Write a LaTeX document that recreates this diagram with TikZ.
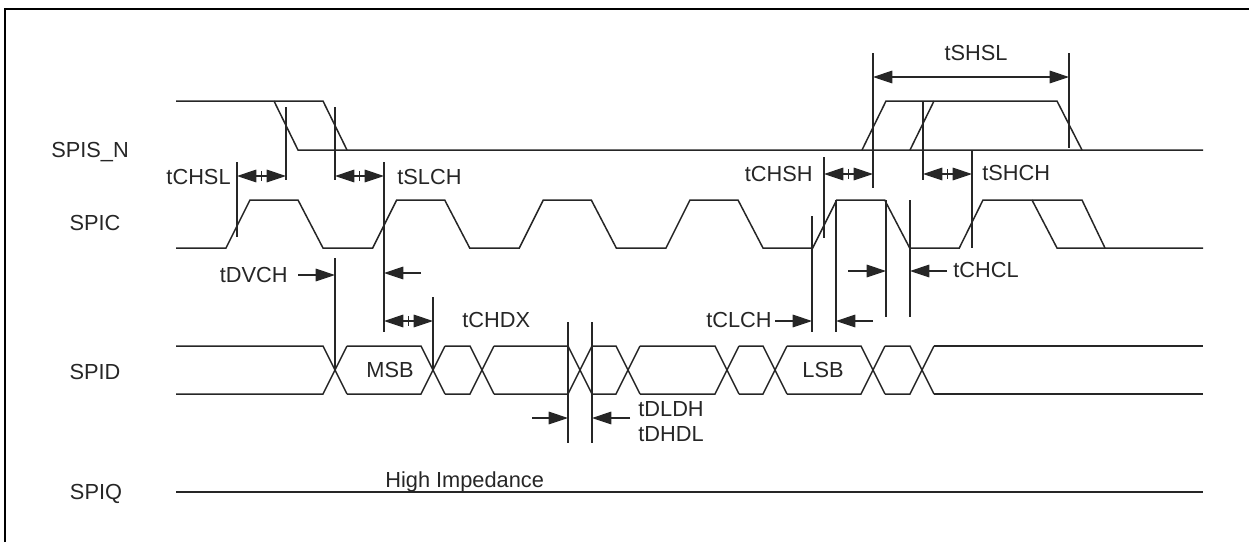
\documentclass[tikz,border=0pt]{standalone}
\usepackage{fontspec}
\setmainfont{Liberation Sans}
\usepackage{xcolor}
\usetikzlibrary{arrows.meta}
\definecolor{ink}{HTML}{262626}
\definecolor{edge}{HTML}{000000}
\tikzset{
  wave/.style={draw=ink, line width=0.85pt, line join=miter},
  mark line/.style={draw=ink, line width=0.6pt},
  span/.style={draw=ink, line width=0.6pt, {Triangle[length=11pt,width=7.2pt]}-{Triangle[length=11pt,width=7.2pt]}},
  ptr/.style={draw=ink, line width=0.6pt, -{Triangle[length=11pt,width=7.2pt]}},
  lab/.style={text=ink, font=\fontsize{12.4}{14}\selectfont, inner sep=0pt},
}
\begin{document}
\begin{tikzpicture}[x=0.02cm, y=-0.02cm]
  \useasboundingbox (0,0) rectangle (1249,542);
  \draw[edge, line width=1.4pt] (5,542) -- (5,9) -- (1249,9);
  \def\shi{101} \def\slo{150}
  \def\chi{200} \def\clo{248}
  \def\dtop{346} \def\dbot{394} \def\dh{12}
  \def\qy{492}
  % signal names
  \node[lab, anchor=base] (spisn) at (90,157) {SPIS\_N};
  \node[lab, anchor=base] (spic) at (95,230) {SPIC};
  \node[lab, anchor=base] (spid) at (95,379) {SPID};
  \node[lab, anchor=base] (spiq) at (96,499) {SPIQ};
  % SPIS_N
  \draw[wave] (176,\shi) -- (323,\shi) -- (347,\slo);
  \draw[wave] (274,\shi) -- (298,\slo) -- (1082,\slo) -- (1203,\slo);
  \draw[wave] (862,\slo) -- (886,\shi) -- (1057,\shi) -- (1082,\slo);
  \draw[wave] (910,\slo) -- (934,\shi);
  % SPIC
  \draw[wave] (176,\clo) foreach \r in {226,372.7,519.3,666,812.7}{
      -- (\r,\clo) -- (\r+24,\chi) -- (\r+72,\chi) -- (\r+97,\clo)}
    -- (959.3,\clo) -- (983,\chi) -- (1082,\chi) -- (1105,\clo);
  \draw[wave] (1032,\chi) -- (1057,\clo) -- (1203,\clo);
  % SPID
  \foreach \c [remember=\c as \p (initially 164)] in {335,433,482,580,628,727,775,873,922}{
    \draw[wave] (\p+\dh,\dtop) -- (\c-\dh,\dtop) -- (\c+\dh,\dbot);
    \draw[wave] (\p+\dh,\dbot) -- (\c-\dh,\dbot) -- (\c+\dh,\dtop);
  }
  \draw[wave] (934,\dtop) -- (1203,\dtop);
  \draw[wave] (934,\dbot) -- (1203,\dbot);
  \node[lab, anchor=base] (msb) at (390,377) {MSB};
  \node[lab, anchor=base] (lsb) at (823,377) {LSB};
  % SPIQ
  \draw[wave] (176,\qy) -- (1203,\qy);
  \node[lab, anchor=base west] (hiz) at (385,487) {High Impedance};
  % timing marks
  \draw[mark line] (237,162) -- (237,237);
  \draw[mark line] (286,107) -- (286,180);
  \draw[mark line] (335,107) -- (335,180);
  \draw[mark line] (384,162) -- (384,332);
  \draw[mark line] (335,258) -- (335,370);
  \draw[mark line] (433,297) -- (433,370);
  \draw[mark line] (568,322) -- (568,443);
  \draw[mark line] (592,322) -- (592,443);
  \draw[mark line] (873,53) -- (873,188);
  \draw[mark line] (923,102) -- (923,180);
  \draw[mark line] (1069,53) -- (1069,148);
  \draw[mark line] (824,157) -- (824,238);
  \draw[mark line] (972,150) -- (972,248);
  \draw[mark line] (812,216) -- (812,332);
  \draw[mark line] (836,200) -- (836,332);
  \draw[mark line] (886,200) -- (886,317);
  \draw[mark line] (910,200) -- (910,317);
  % tCHSL, tSLCH
  \draw[span] (237,176) -- (286,176);
  \draw[mark line] (261.5,171) -- (261.5,181);
  \node[lab, anchor=base east] (tchsl) at (231,184) {tCHSL};
  \draw[span] (335,176) -- (384,176);
  \draw[mark line] (359.5,171) -- (359.5,181);
  \node[lab, anchor=base west] (tslch) at (397,184) {tSLCH};
  % tSHSL
  \draw[span] (873,77) -- (1069,77);
  \node[lab, anchor=base] (tshsl) at (976,60) {tSHSL};
  % tCHSH, tSHCH
  \draw[span] (824,174) -- (873,174);
  \draw[mark line] (848.5,169) -- (848.5,179);
  \node[lab, anchor=base east] (tchsh) at (813,181) {tCHSH};
  \draw[span] (923,174) -- (972,174);
  \draw[mark line] (947.5,169) -- (947.5,179);
  \node[lab, anchor=base west] (tshch) at (982,180) {tSHCH};
  % tDVCH
  \node[lab, anchor=base east] (tdvch) at (288,282) {tDVCH};
  \draw[ptr] (298,275) -- (335,275);
  \draw[ptr] (421,273) -- (384,273);
  % tCHDX
  \draw[span] (384,321) -- (433,321);
  \draw[mark line] (408.5,316) -- (408.5,326);
  \node[lab, anchor=base west] (tchdx) at (462,327) {tCHDX};
  % tDLDH, tDHDL
  \draw[ptr] (532,418) -- (568,418);
  \draw[ptr] (630,418) -- (592,418);
  \node[lab, anchor=base west] (tdldh) at (638,416) {tDLDH};
  \node[lab, anchor=base west] (tdhdl) at (638,441) {tDHDL};
  % tCLCH
  \node[lab, anchor=base east] (tclch) at (772,327) {tCLCH};
  \draw[ptr] (775,321) -- (812,321);
  \draw[ptr] (873,321) -- (836,321);
  % tCHCL
  \draw[ptr] (848,271) -- (886,271);
  \draw[ptr] (947,271) -- (910,271);
  \node[lab, anchor=base west] (tchcl) at (953,277) {tCHCL};
\end{tikzpicture}
\end{document}
